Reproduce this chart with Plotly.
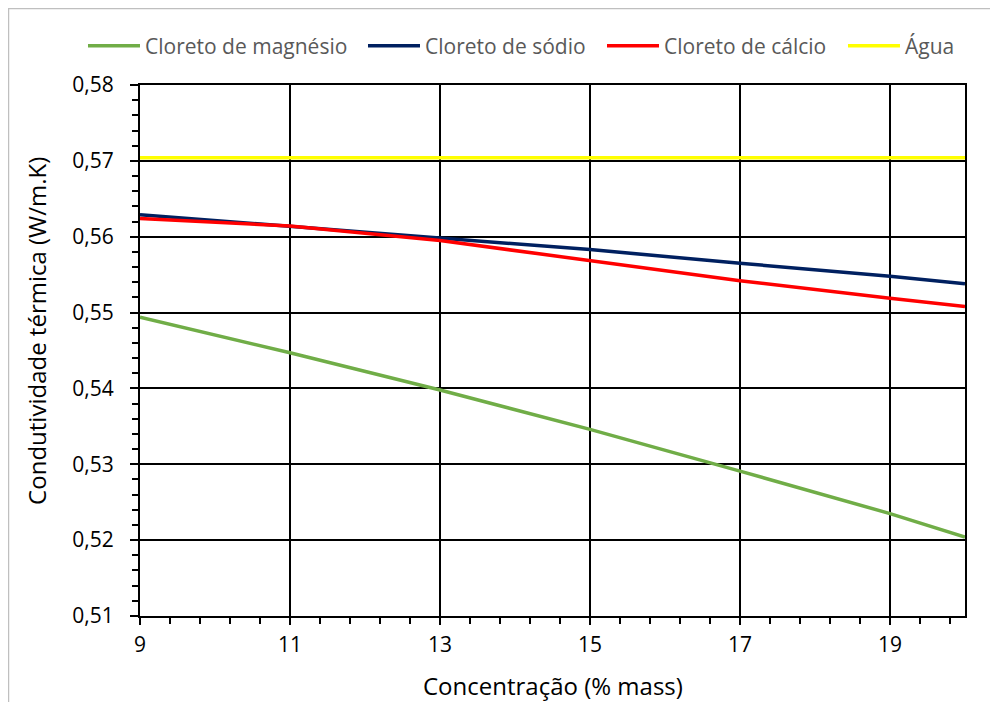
import plotly.graph_objects as go

# Data
conc = [9, 11, 13, 15, 17, 19, 20]
magnesio = [0.5494, 0.5447, 0.5398, 0.5346, 0.5291, 0.5235, 0.5204]
sodio = [0.5629, 0.5614, 0.5598, 0.5583, 0.5565, 0.5548, 0.5538]
calcio = [0.5624, 0.5614, 0.5595, 0.5569, 0.5542, 0.5519, 0.5508]
agua = [0.5704, 0.5704, 0.5704, 0.5704, 0.5704, 0.5704, 0.5704]

names = ["Cloreto de magnésio", "Cloreto de sódio", "Cloreto de cálcio", "Água"]
values = [magnesio, sodio, calcio, agua]
colors = ["#70ad47", "#002060", "#ff0000", "#ffff00"]
legend_ids = ["legend", "legend2", "legend3", "legend4"]
legend_x = [-0.0691, 0.2703, 0.560, 0.8521]

FONT = "Open Sans"

fig = go.Figure()
for name, vals, color, lid in zip(names, values, colors, legend_ids):
    fig.add_trace(go.Scatter(x=conc, y=vals, name=name, mode="lines",
                             line=dict(color=color, width=3.5), legend=lid))

legend_layout = {}
for lid, lx in zip(legend_ids, legend_x):
    legend_layout[lid] = dict(orientation="h", x=lx, xanchor="left", y=1.0734, yanchor="middle",
                              font=dict(family=FONT, size=21, color="#595959"),
                              itemwidth=52, bgcolor="rgba(0,0,0,0)", borderwidth=0)

fig.update_layout(
    width=990, height=694,
    separators=",.",
    paper_bgcolor="white", plot_bgcolor="white",
    margin=dict(l=132, r=33, t=77, b=86),
    font=dict(family=FONT, size=21, color="black"),
    showlegend=True,
    xaxis=dict(range=[9, 20], tick0=9, dtick=2, showgrid=True, gridcolor="black", gridwidth=2,
               showline=True, linecolor="black", linewidth=2, mirror=True,
               ticks="outside", ticklen=7, tickwidth=2, tickcolor="black",
               minor=dict(tick0=9, dtick=0.4, ticks="outside", ticklen=6, tickwidth=2,
                          tickcolor="black", showgrid=False),
               zeroline=False, ticklabelstandoff=2,
               tickfont=dict(size=21, color="black")),
    yaxis=dict(range=[0.51, 0.58], tick0=0.51, dtick=0.01, tickformat=".2f",
               showgrid=True, gridcolor="black", gridwidth=2,
               showline=True, linecolor="black", linewidth=2, mirror=True,
               ticks="outside", ticklen=8, tickwidth=2, tickcolor="black",
               minor=dict(dtick=0.002, ticks="outside", ticklen=6, tickwidth=2,
                          tickcolor="black", showgrid=False),
               zeroline=False, ticklabelstandoff=12,
               tickfont=dict(size=21, color="black")),
    annotations=[
        dict(text="Concentração (% mass)", xref="paper", yref="paper", x=0.5006, y=-0.1318,
             xanchor="center", yanchor="middle", showarrow=False,
             font=dict(family=FONT, size=24, color="black")),
        dict(text="Condutividade térmica (W/m.K)", xref="paper", yref="paper", x=-0.1248, y=0.537,
             xanchor="center", yanchor="middle", showarrow=False, textangle=-90,
             font=dict(family=FONT, size=24, color="black")),
    ],
    shapes=[dict(type="rect", xref="paper", yref="paper",
                 x0=-0.1594, x1=1.05, y0=-0.25, y1=1.1441,
                 line=dict(color="#bfbfbf", width=1.5), layer="below")],
    **legend_layout,
)

fig.write_html("out.html")
